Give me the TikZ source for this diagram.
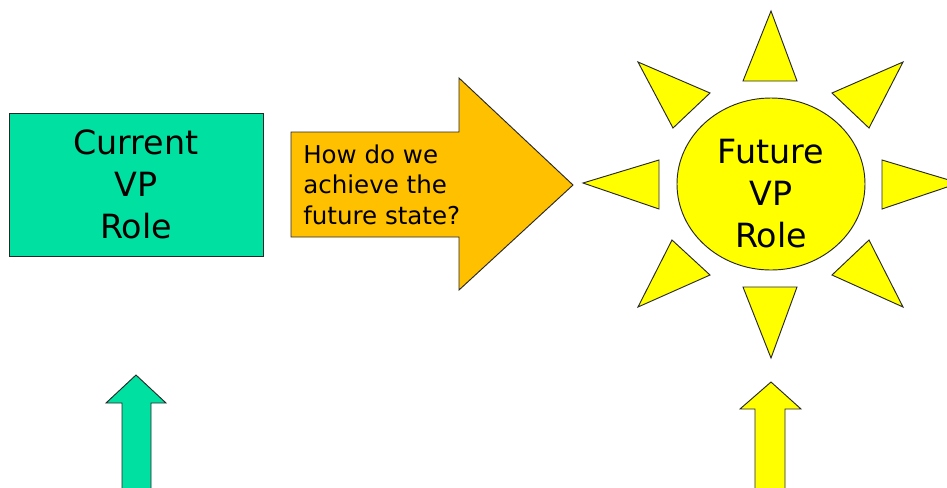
\documentclass[tikz,border=0pt]{standalone}
\usepackage{fontspec}
\setmainfont{DejaVu Sans}
\usepackage{xcolor}
\usetikzlibrary{shapes.geometric}
\definecolor{vpteal}{RGB}{0,224,160}
\definecolor{vporange}{RGB}{255,192,0}
\definecolor{vpyellow}{RGB}{255,255,0}
\definecolor{vpedge}{RGB}{40,40,40}

\begin{document}
\begin{tikzpicture}[
  x=0.75pt, y=-0.75pt,
  shape edge/.style={draw=vpedge, line width=0.7pt, line join=miter},
  curbox/.style={shape edge, fill=vpteal, rectangle,
    minimum width=190.5pt, minimum height=107.25pt, inner sep=0pt,
    align=center, font=\fontsize{25}{31.5}\selectfont},
  sunball/.style={shape edge, fill=vpyellow, ellipse, inner sep=0pt,
    minimum width=141pt, minimum height=129pt},
  bigtext/.style={align=center, inner sep=0pt, font=\fontsize{25}{31.5}\selectfont},
  howtext/.style={align=left, inner sep=0pt, anchor=west,
    font=\fontsize{18.4}{22.9}\selectfont},
  ray/.style={shape edge, fill=vpyellow},
  howarrow/.style={shape edge, fill=vporange},
  uparrow/.style={shape edge}
]
  \useasboundingbox (0,0) rectangle (947,487);
  \clip (0,0) rectangle (947,487);

  % current role
  \node[curbox] (current) at (136,184.5) {Current\\VP\\Role};

  % transition arrow
  \coordinate (tip) at (573,185);
  \draw[howarrow] (291,132) -- (459,132) -- (459,78) -- (tip)
    -- (459,290) -- (459,237) -- (291,237) -- cycle;
  \node[howtext] (how) at (303,184.5) {How do we\\achieve the\\future state?};

  % future role (sun)
  \node[sunball] (sun) at (771,184) {};
  \node[bigtext] (future) at (771,193.5) {Future\\VP\\Role};
  \foreach \a/\b/\c in {
      {771,11}/{743,81}/{797,81},
      {771,358}/{743,287}/{797,287},
      {583,183}/{659,160}/{659,209},
      {959,183}/{882,160}/{882,209},
      {638,62}/{710,93}/{673,128},
      {903,62}/{832,93}/{869,128},
      {638,307}/{710,275}/{672,240},
      {903,307}/{832,275}/{869,240}}
    \draw[ray] (\a) -- (\b) -- (\c) -- cycle;

  % arrows from below
  \coordinate (curfoot) at (136,375);
  \draw[uparrow, fill=vpteal] (122,495) -- (122,403) -- (106,403) -- (curfoot)
    -- (166,403) -- (151,403) -- (151,495) -- cycle;
  \coordinate (futfoot) at (771,382);
  \draw[uparrow, fill=vpyellow] (755,495) -- (755,409) -- (740,409) -- (futfoot)
    -- (801,409) -- (785,409) -- (785,495) -- cycle;
\end{tikzpicture}
\end{document}
